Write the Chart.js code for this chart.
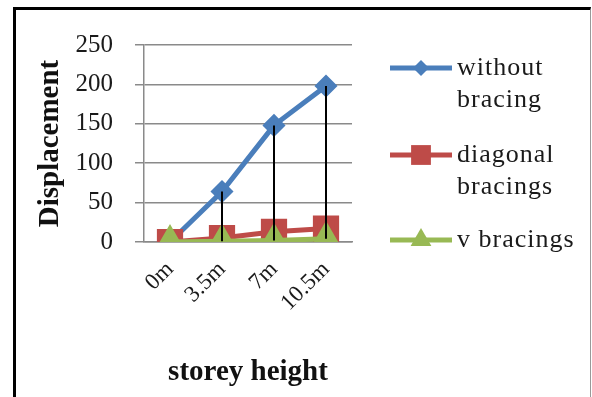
<!DOCTYPE html>
<html>
<head>
<meta charset="utf-8">
<script src="https://cdn.jsdelivr.net/npm/chart.js@4/dist/chart.umd.min.js"></script>
<style>
  html, body { margin: 0; padding: 0; background: #fff; }
  body { width: 592px; height: 397px; position: relative; overflow: hidden; }
  #frame {
    position: absolute; left: 13px; top: 7px; width: 574px; height: 400px;
    border-left: 3px solid #000; border-top: 3px solid #000; border-right: 1px solid #999;
  }
  #wrap { position: absolute; left: 0; top: 0; width: 592px; height: 397px; }
</style>
</head>
<body>
<div id="frame"></div>
<div id="wrap"><canvas id="chart" width="592" height="397"></canvas></div>
<script>
// Storey heights and lateral displacement for each bracing scheme
const storeyHeights = ['0m', '3.5m', '7m', '10.5m'];
const withoutBracing = [0, 64, 148, 198];
const diagonalBracings = [0, 5, 13, 17];
const vBracings = [0, 1, 2, 4];
const yTicks = [0, 50, 100, 150, 200, 250];

const seriesNames = [['without', 'bracing'], ['diagonal', 'bracings'], ['v bracings']];
const BLUE = '#4A7EBB', RED = '#BE4B48', GREEN = '#98B954';
const SERIF = '"Liberation Serif", "Times New Roman", serif';

// Black high-low lines joining the highest and lowest series at each storey
const highLowLines = {
  id: 'highLowLines',
  afterDatasetsDraw(chart) {
    const { ctx, scales: { x, y } } = chart;
    const sets = chart.data.datasets;
    ctx.save();
    ctx.strokeStyle = '#000';
    ctx.lineWidth = 2;
    chart.data.labels.forEach((_, i) => {
      const vals = sets.map(d => d.data[i]);
      const hi = Math.max(...vals), lo = Math.min(...vals);
      if (hi === lo) return;
      const px = x.getPixelForValue(i);
      ctx.beginPath();
      ctx.moveTo(px, y.getPixelForValue(hi));
      ctx.lineTo(px, y.getPixelForValue(lo));
      ctx.stroke();
    });
    ctx.restore();
  }
};

function drawMarker(ctx, style, cx, cy, r, color) {
  ctx.fillStyle = color;
  ctx.beginPath();
  if (style === 'rectRot') {
    ctx.moveTo(cx, cy - r); ctx.lineTo(cx + r, cy); ctx.lineTo(cx, cy + r); ctx.lineTo(cx - r, cy);
  } else if (style === 'rect') {
    const s = r * Math.SQRT1_2;
    ctx.rect(cx - s, cy - s, 2 * s, 2 * s);
  } else {
    ctx.moveTo(cx, cy - r); ctx.lineTo(cx + r * 0.866, cy + r * 0.5); ctx.lineTo(cx - r * 0.866, cy + r * 0.5);
  }
  ctx.closePath();
  ctx.fill();
}

// Legend on the right with wrapped series names
const sideLegend = {
  id: 'sideLegend',
  afterDraw(chart) {
    const { ctx } = chart;
    const rows = [68, 155, 240];
    const lineH = 32;
    ctx.save();
    chart.data.datasets.forEach((d, i) => {
      const y0 = rows[i];
      ctx.strokeStyle = d.borderColor;
      ctx.lineWidth = 5;
      ctx.beginPath(); ctx.moveTo(390, y0); ctx.lineTo(452, y0); ctx.stroke();
      drawMarker(ctx, d.pointStyle, 421, y0, d.legendRadius, d.backgroundColor);
      ctx.fillStyle = '#1a1a1a';
      ctx.font = '26px ' + SERIF;
      ctx.letterSpacing = '1px';
      ctx.textBaseline = 'middle';
      ctx.textAlign = 'left';
      seriesNames[i].forEach((t, k) => ctx.fillText(t, 457, y0 + k * lineH));
    });
    ctx.restore();
  }
};

new Chart(document.getElementById('chart'), {
  type: 'line',
  data: {
    labels: storeyHeights,
    datasets: [
      { label: 'without bracing', data: withoutBracing, borderColor: BLUE, backgroundColor: BLUE,
        borderWidth: 5, pointStyle: 'rectRot', pointRadius: 8, legendRadius: 8, order: 3 },
      { label: 'diagonal bracings', data: diagonalBracings, borderColor: RED, backgroundColor: RED,
        borderWidth: 5, pointStyle: 'rect', pointRadius: 15, legendRadius: 14, order: 2 },
      { label: 'v bracings', data: vBracings, borderColor: GREEN, backgroundColor: GREEN,
        borderWidth: 5, pointStyle: 'triangle', pointRadius: 13, legendRadius: 12, order: 1 }
    ]
  },
  options: {
    responsive: false,
    animation: false,
    devicePixelRatio: 1,
    layout: { padding: { left: 33, top: 45, right: 240, bottom: 7 } },
    elements: { line: { tension: 0 }, point: { borderWidth: 0, hoverRadius: 8 } },
    plugins: { legend: { display: false }, tooltip: { enabled: false } },
    scales: {
      y: {
        min: 0, max: 250,
        afterBuildTicks(scale) { scale.ticks = yTicks.map(v => ({ value: v })); },
        afterFit(scale) { scale.width = 144 - 33; },
        ticks: { color: '#1a1a1a', padding: 22, font: { family: SERIF, size: 25 } },
        grid: { color: '#8a8a8a', lineWidth: 1.5, tickLength: 9 },
        border: { color: '#8a8a8a', width: 1.5 },
        title: { display: true, text: 'Displacement', color: '#111', padding: 0,
                 font: { family: SERIF, size: 29, weight: 'bold' } }
      },
      x: {
        offset: true,
        afterFit(scale) { scale.height = 397 - 242 - 7; },
        ticks: { color: '#1a1a1a', minRotation: 45, maxRotation: 45, padding: 6,
                 font: { family: SERIF, size: 23 } },
        grid: { display: false },
        border: { color: '#8a8a8a', width: 1.5 },
        title: { display: true, text: 'storey height', color: '#111', padding: 0,
                 font: { family: SERIF, size: 29, weight: 'bold' } }
      }
    }
  },
  plugins: [highLowLines, sideLegend]
});
</script>
</body>
</html>
